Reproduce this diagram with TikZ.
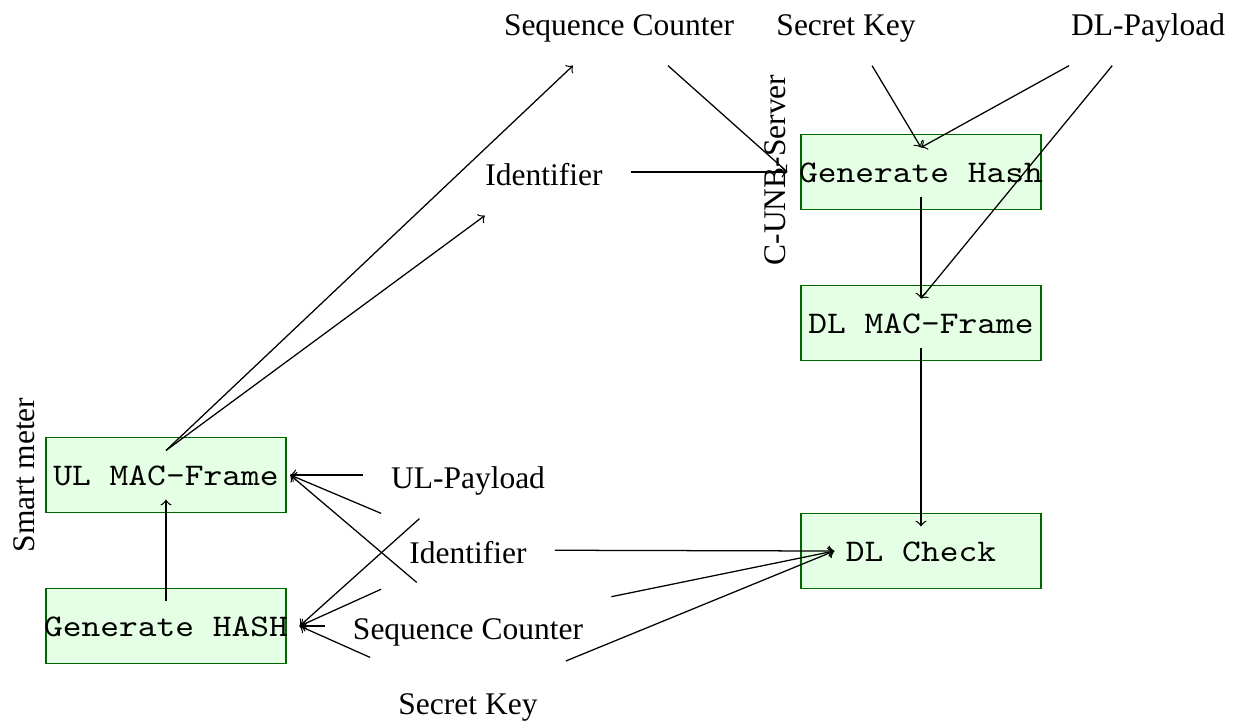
\documentclass[tikz,border=0pt]{standalone}
\usepackage{fontspec}
\usepackage{graphicx}
\setmainfont{Liberation Serif}
% monospaced box captions, widened to the box proportions
\newcommand{\boxcaption}[1]{\scalebox{1.135}[1]{#1}}
\begin{document}
\begin{tikzpicture}[x=0.3175pt,y=-0.3175pt,
  lbl/.style={font=\fontsize{10}{12}\selectfont, text height=8.25pt, text depth=0pt,
              inner xsep=8.8pt, inner ysep=0pt, minimum height=27.3pt},
  side/.style={font=\fontsize{10}{12}\selectfont, rotate=90, text height=8.25pt, text depth=0pt},
  boxbg/.style={draw=green!40!black, fill=green!10, minimum width=76.2pt,
                minimum height=23.9pt, inner sep=0pt, line width=0.4pt},
  boxtxt/.style={font=\fontsize{10}{12}\selectfont\ttfamily,
                 text height=7.3pt, text depth=0.9pt, inner sep=3.5pt},
  flow/.style={->, line width=0.4pt}
]
\useasboundingbox (0,0) rectangle (1238,721);

% box backgrounds
\node[boxbg] (ulmacbox) at (166,475) {};
\node[boxbg] (hashbox)  at (166,626) {};
\node[boxbg] (ghsbox)   at (921,172) {};
\node[boxbg] (dlmacbox) at (921,323) {};
\node[boxbg] (dlcbox)   at (921,551) {};

% box texts
\node[boxtxt] (ulmac) at (166,475) {\boxcaption{UL MAC-Frame}};
\node[boxtxt] (hash)  at (166,626) {\boxcaption{Generate HASH}};
\node[boxtxt] (ghs)   at (921,172) {\boxcaption{Generate Hash}};
\node[boxtxt] (dlmac) at (921,323) {\boxcaption{DL MAC-Frame}};
\node[boxtxt] (dlc)   at (921,551) {\boxcaption{DL Check}};

% side titles
\node[side] (smtitle) at (22,475) {Smart meter};
\node[side] (srvtitle) at (772,170) {C-UNB-Server};

% server inputs
\node[lbl] (sct)  at (619,22)  {Sequence Counter};
\node[lbl] (skt)  at (846,22)  {Secret Key};
\node[lbl] (dlp)  at (1148,22) {DL-Payload};
\node[lbl] (idt)  at (544,172) {Identifier};

% meter inputs
\node[lbl] (ulp)  at (468,475) {UL-Payload};
\node[lbl] (idb)  at (468,550) {Identifier};
\node[lbl] (scb)  at (468,626) {Sequence Counter};
\node[lbl] (skb)  at (468,701) {Secret Key};

% smart meter flow
\draw[flow] (hash) -- (ulmac);
\draw[flow] (ulmac.north) -- (sct);
\draw[flow] (ulmac.north) -- (idt);
\draw[flow] (ulp) -- (ulmac.east);
\draw[flow] (idb) -- (ulmac.east);
\draw[flow] (scb) -- (ulmac.east);
\draw[flow] (ulp) -- (hash.east);
\draw[flow] (idb) -- (hash.east);
\draw[flow] (scb) -- (hash.east);
\draw[flow] (skb) -- (hash.east);

% server flow
\draw[flow] (sct) -- (ghs.west);
\draw[flow] (idt) -- (ghs.west);
\draw[flow] (skt) -- (ghs.north);
\draw[flow] (dlp) -- (ghs.north);
\draw[flow] (dlp) -- (dlmac.north);
\draw[flow] (ghs) -- (dlmac);
\draw[flow] (dlmac) -- (dlc);

% check inputs
\draw[flow] (idb) -- (dlc.west);
\draw[flow] (scb) -- (dlc.west);
\draw[flow] (skb) -- (dlc.west);
\end{tikzpicture}
\end{document}
